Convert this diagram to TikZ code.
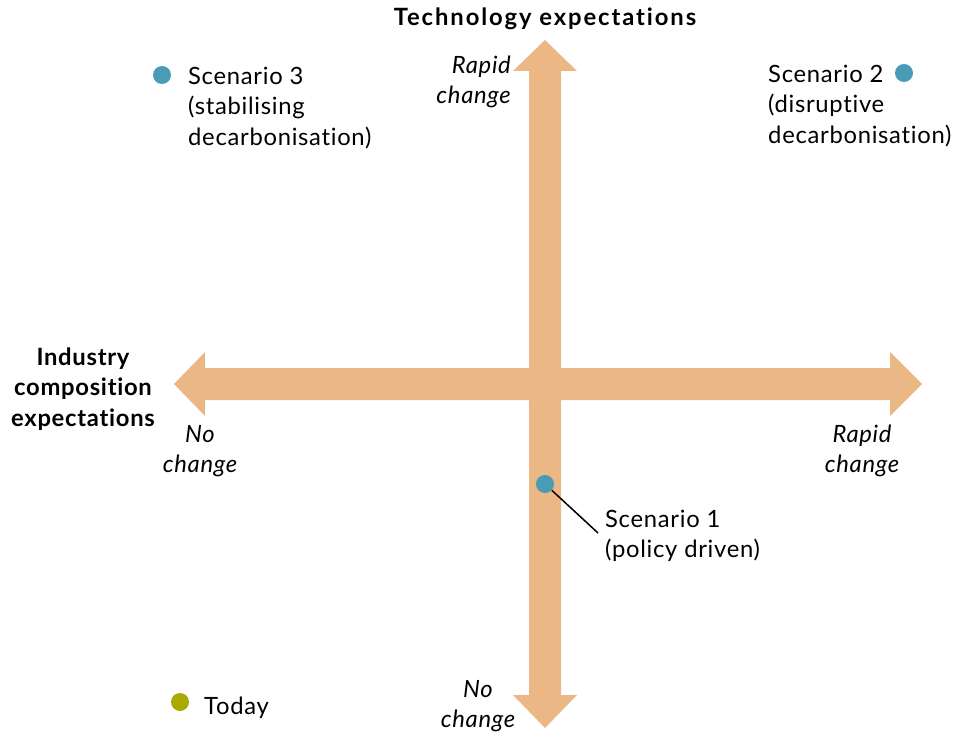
\documentclass[tikz,border=0pt]{standalone}
\usepackage{fontspec}
\setmainfont{Lato}[LetterSpace=3,Ligatures=NoCommon]
\definecolor{axisc}{RGB}{235,183,132}
\definecolor{dotblue}{RGB}{74,155,181}
\definecolor{dotolive}{RGB}{168,170,0}
\begin{document}
\begin{tikzpicture}[x=1pt,y=-1pt,
  txt/.style={inner sep=0pt,font=\fontsize{23.8}{30.5}\selectfont},
  lbl/.style={txt,font=\fontsize{23.8}{30.5}\selectfont\itshape},
  ttl/.style={txt,font=\fontsize{23.8}{30.5}\selectfont\bfseries},
  dot/.style={circle,inner sep=0pt,minimum size=18pt},
  bluedot/.style={dot,fill=dotblue},
  olivedot/.style={dot,fill=dotolive}]
\useasboundingbox (0,0) rectangle (956,733);
% axes
\fill[axisc] (545,40) -- (577,71) -- (561,71) -- (561,695) -- (577,695) -- (545,728) -- (513,695) -- (529,695) -- (529,71) -- (513,71) -- cycle;
\fill[axisc] (174,384) -- (205,352) -- (205,368) -- (890,368) -- (890,352) -- (922,384) -- (890,416) -- (890,400) -- (205,400) -- (205,416) -- cycle;
% titles
\node[ttl,anchor=center] (tech) at (545,19) {\addfontfeatures{LetterSpace=8}Technology\ expectations};
\node[ttl,align=center,anchor=center] (ind) at (83,389) {Industry\\composition\\expectations};
% axis labels
\node[lbl,align=right,anchor=east] (rapidup) at (511,82) {Rapid\\change};
\node[lbl,align=center,anchor=center] (nochl) at (200,451) {No\\change};
\node[lbl,align=center,anchor=center] (rapidr) at (862,451) {Rapid\\change};
\node[lbl,align=center,anchor=center] (nochd) at (478,706) {No\\change};
% scenarios
\node[bluedot] (s3dot) at (162,75) {};
\node[txt,align=left,anchor=west] (s3) at (188,108) {Scenario 3\\(stabilising\\decarbonisation)};
\node[bluedot] (s2dot) at (904,73) {};
\node[txt,align=left,anchor=west] (s2) at (768,106) {Scenario 2\\(disruptive\\decarbonisation)};
\node[bluedot] (s1dot) at (545,484) {};
\node[txt,align=left,anchor=west] (s1) at (605,536) {Scenario 1\\(policy driven)};
\coordinate (s1end) at (598,533);
\draw[line width=1.5pt] (s1dot) -- (s1end);
\node[olivedot] (tdot) at (180,702) {};
\node[txt,anchor=west] (today) at (204,708) {Today};
\end{tikzpicture}
\end{document}
